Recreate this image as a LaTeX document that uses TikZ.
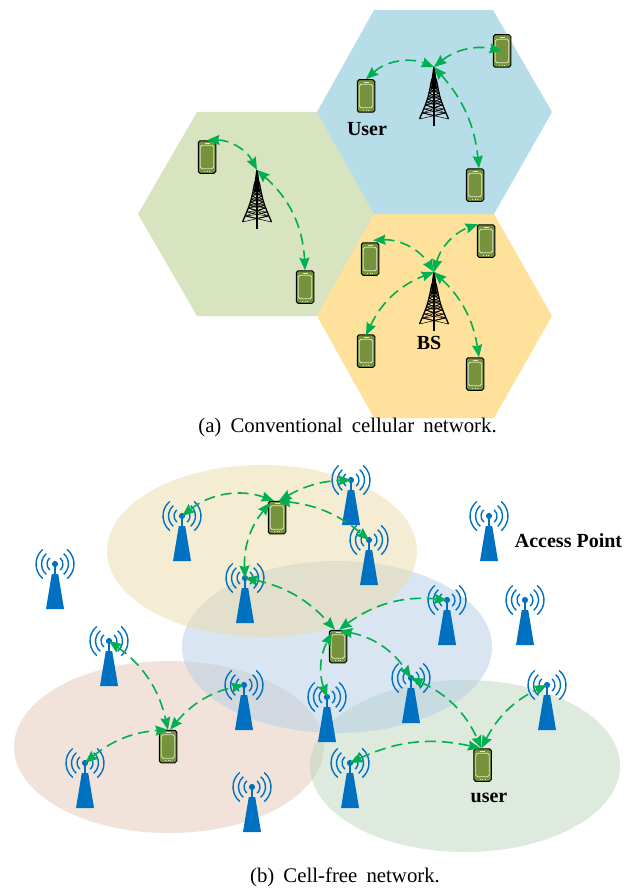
\documentclass[tikz,border=0pt]{standalone}
\usepackage{fontspec}
\setmainfont{Liberation Serif}
\usetikzlibrary{arrows.meta}
\definecolor{hexblue}{HTML}{B7DDE8}
\definecolor{hexgreen}{HTML}{D8E3BF}
\definecolor{hexyellow}{HTML}{FEE29B}
\definecolor{linkgreen}{HTML}{00B050}
\definecolor{apblue}{HTML}{0070C0}
\definecolor{phoneolive}{HTML}{76923C}
\definecolor{screenline}{HTML}{DDE6C8}
\definecolor{elred}{HTML}{E3C7B5}
\definecolor{elgreen}{HTML}{BDD5BB}
\definecolor{elblue}{HTML}{B3CDE5}
\definecolor{elyellow}{HTML}{EBDBA7}
\newcommand{\capgap}{\hspace{0.19em}}
\tikzset{
  x=1pt,y=-1pt,
  link/.style={draw=linkgreen,line width=1.6pt,dash pattern=on 11pt off 6pt,
    {Stealth[length=12.5pt,width=10pt,inset=1.5pt]}-{Stealth[length=12.5pt,width=10pt,inset=1.5pt]}},
  phone/.style={draw=black,line width=1pt,fill=phoneolive,rounded corners=1.8pt,
    minimum width=17.5pt,minimum height=32.5pt,inner sep=0pt,
    path picture={
      \draw[screenline,line width=0.9pt]
        ([xshift=2pt,yshift=-4.5pt]path picture bounding box.north west) rectangle
        ([xshift=-2pt,yshift=4.5pt]path picture bounding box.south east);
      \draw[screenline,line width=0.7pt]
        ([xshift=-2.5pt,yshift=-2.3pt]path picture bounding box.north) --
        ([xshift=2.5pt,yshift=-2.3pt]path picture bounding box.north);
      \draw[screenline,line width=0.8pt,dash pattern=on 1pt off 1.5pt]
        ([xshift=-3pt,yshift=2.2pt]path picture bounding box.south) --
        ([xshift=3pt,yshift=2.2pt]path picture bounding box.south);
    }},
  apsign/.pic={
    \fill[apblue] (-3.2,10) -- (3.2,10) -- (9,45) -- (-9,45) -- cycle;
    \draw[apblue,line width=1.2pt] (0,0) -- (0,11);
    \fill[apblue] (0,0) circle (3.1);
    \foreach \r in {8,13.5,19}{
      \draw[apblue,line width=1.4pt] (-50:\r) arc[start angle=-50,end angle=50,radius=\r];
      \draw[apblue,line width=1.4pt] (130:\r) arc[start angle=130,end angle=230,radius=\r];
    }
  },
  towerpic/.pic={
    \fill[black] (-0.8,0) -- (0.8,0) -- (2.4,12) -- (2.8,22) -- (-2.8,22) -- (-2.4,12) -- cycle;
    \draw[black,line width=1.3pt] (-2.2,12) .. controls (-6,32) .. (-14.5,52)
                                  (2.2,12) .. controls (6,32) .. (14.5,52);
    \draw[black,line width=1.4pt] (0,12) -- (0,59);
    \foreach \yy/\ww in {20/3.4,23/4.2,26/5,29/5.8,32/6.6,35/7.5,38/8.4,42/9.8,46/11.4}{
      \draw[black,line width=0.8pt] (-\ww,\yy) -- (0,\yy+2.5) -- (\ww,\yy);
      \draw[black,line width=0.5pt] (-\ww,\yy) -- (0,\yy-1.5) -- (\ww,\yy);
    }
    \foreach \ya/\wa/\yb/\wb in {20/3.4/26/5,26/5/32/6.6,32/6.6/38/8.4,38/8.4/46/11.4,46/11.4/52/14.5}{
      \draw[black,line width=0.5pt] (-\wa,\ya) -- (\wb,\yb) (\wa,\ya) -- (-\wb,\yb);
    }
  },
  boldlabel/.style={font=\fontsize{20}{22}\selectfont\bfseries,inner sep=0pt},
  captiontext/.style={font=\fontsize{20.8}{23}\selectfont,inner sep=0pt},
}
\begin{document}
\begin{tikzpicture}
\useasboundingbox (0,0) rectangle (631,888);
% hexagons
\fill[hexgreen] (138,214) -- (197,112) -- (317,112) -- (375,214) -- (317,316) -- (197,316) -- cycle;
\fill[hexyellow] (317,316) -- (374,214) -- (494,214) -- (552,316) -- (494,418) -- (374,418) -- cycle;
\fill[hexblue] (317,112) -- (374,10) -- (493,10) -- (552,112) -- (494,214) -- (374,214) -- cycle;
% towers
\coordinate (tblue) at (434,67);
\coordinate (tgreen) at (257,170);
\coordinate (tyellow) at (434,272);
\pic at (tblue) {towerpic};
\pic at (tgreen) {towerpic};
\pic at (tyellow) {towerpic};
% phones (a)
\node[phone] (pb1) at (366,96) {};
\node[phone] (pb2) at (502,51) {};
\node[phone] (pb3) at (475,185) {};
\node[phone] (pg1) at (207,157) {};
\node[phone] (pg2) at (305,287) {};
\node[phone] (py1) at (370,259) {};
\node[phone] (py2) at (486,241) {};
\node[phone] (py3) at (366,351) {};
\node[phone] (py4) at (475,374) {};
% links (a)
\draw[link] (pb1.north) to[bend left=32] (tblue);
\draw[link] (tblue) to[bend left=26] (pb2.center);
\draw[link] (tblue) to[bend left=18] ([xshift=4pt]pb3.north);
\draw[link] (pg1.north) to[bend left=32] (tgreen);
\draw[link] (tgreen) to[bend left=23] (pg2.north);
\draw[link] ([xshift=3pt,yshift=2pt]py1.north) to[bend left=30] (tyellow);
\draw[link] (tyellow) to[bend left=28] ([xshift=-8pt]py2.north);
\draw[link] ([yshift=-1pt]py3.north) to[bend left=22] (tyellow);
\draw[link] (tyellow) to[bend left=19] ([xshift=4pt]py4.north);
\node[boldlabel] (luser) at (367,129) {User};
\node[boldlabel] (lbs) at (429,343) {BS};
\node[captiontext] (capa) at (347.5,427) {(a) \capgap Conventional \capgap cellular \capgap network.};
% ellipses (b)
\fill[elred,fill opacity=0.5] (169,747) ellipse [x radius=155,y radius=86];
\fill[elgreen,fill opacity=0.5] (465,766) ellipse [x radius=155,y radius=86];
\fill[elblue,fill opacity=0.5] (337,647) ellipse [x radius=155,y radius=86];
\fill[elyellow,fill opacity=0.5] (262,551) ellipse [x radius=155,y radius=86];
% access points
\foreach \nm/\px/\py in {a1/182/516,a2/351/480,a3/369/540,a4/245/578,a5/489/516,a6/55/564,
  a7/447/600,a8/525/600,a9/411/678,a10/327/697,a11/547/685,a12/350/763,
  a13/109/641,a14/244/685,a15/85/763,a16/252/787}{
  \coordinate (\nm) at (\px,\py);
  \pic at (\nm) {apsign};
}
% phones (b)
\node[phone] (u1) at (277,517.5) {};
\node[phone] (u2) at (338,646.5) {};
\node[phone] (u3) at (482.5,765) {};
\node[phone] (u4) at (168,746.5) {};
% links (b)
\draw[link] (a1) to[bend left=29] ([xshift=-3pt]u1.north);
\draw[link] ([xshift=2pt]u1.north) to[bend left=14] (a2);
\draw[link] ([xshift=1pt]u1.north) to[bend left=17] (a3);
\draw[link] (a4) to[bend left=21] ([xshift=-7pt,yshift=-2pt]u1.north);
\draw[link] (a4) to[bend left=18] ([xshift=-3pt]u2.north);
\draw[link] ([xshift=1pt]u2.north) to[bend left=21] (a7);
\draw[link] ([xshift=2pt,yshift=-1pt]u2.north) to[bend left=23] (a9);
\draw[link] (a10) to[bend left=24] ([xshift=-6pt,yshift=-3pt]u2.north);
\draw[link] (a9) to[bend left=21] ([xshift=-1pt]u3.north);
\draw[link] ([xshift=-1pt]u3.north) to[bend left=19] (a11);
\draw[link] (a12) to[bend left=19] ([xshift=-2pt]u3.north);
\draw[link] (a13) to[bend left=21] (u4.north);
\draw[link] ([xshift=2pt]u4.north) to[bend left=19] (a14);
\draw[link] (a15) to[bend left=18] (u4.north);
\node[boldlabel] (laccess) at (568.5,541) {Access Point};
\node[boldlabel] (luser2) at (489,798) {user};
\node[captiontext] (capb) at (345,877) {(b) \capgap Cell-free \capgap network.};
\end{tikzpicture}
\end{document}
